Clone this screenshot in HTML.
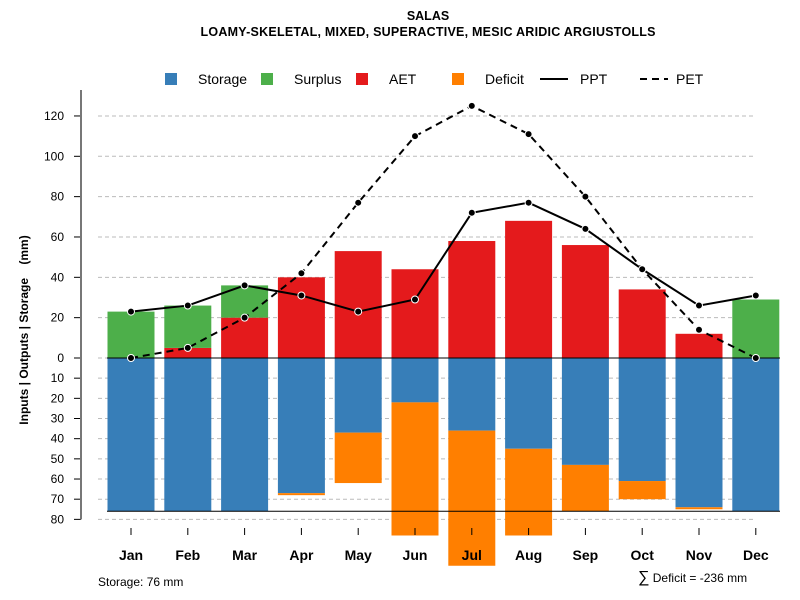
<!DOCTYPE html>
<html><head><meta charset="utf-8"><style>body{margin:0;background:#fff}svg{display:block;font-family:"Liberation Sans",sans-serif}</style></head>
<body>
<svg id="c" width="800" height="600">
<text x="428" y="20" text-anchor="middle" font-size="12.5" font-weight="bold">SALAS</text>
<text x="428" y="36" text-anchor="middle" font-size="12.5" font-weight="bold" textLength="455">LOAMY-SKELETAL, MIXED, SUPERACTIVE, MESIC ARIDIC ARGIUSTOLLS</text>
<g id="grid"></g><g id="bars"></g><g id="lines"></g><g id="axes"></g>
<g font-size="14">
<rect x="165" y="73" width="12" height="12" fill="#377eb8"/><text x="198" y="84">Storage</text>
<rect x="261" y="73" width="12" height="12" fill="#4daf4a"/><text x="294" y="84">Surplus</text>
<rect x="356" y="73" width="12" height="12" fill="#e41a1c"/><text x="389" y="84">AET</text>
<rect x="452" y="73" width="12" height="12" fill="#ff7f00"/><text x="485" y="84">Deficit</text>
<line x1="540" y1="79" x2="568" y2="79" stroke="#000" stroke-width="2"/><text x="580" y="84">PPT</text>
<line x1="640" y1="79" x2="668" y2="79" stroke="#000" stroke-width="2" stroke-dasharray="7,5"/><text x="676" y="84">PET</text>
</g>
<text transform="translate(28,330) rotate(-90)" text-anchor="middle" font-size="12" font-weight="bold" xml:space="preserve">Inputs | Outputs | Storage    (mm)</text>
<text x="98" y="586" font-size="12">Storage: 76 mm</text>
<text x="638" y="582" font-size="12"><tspan font-size="16">∑</tspan> Deficit = -236 mm</text>
</svg>
<script>
const months=["Jan","Feb","Mar","Apr","May","Jun","Jul","Aug","Sep","Oct","Nov","Dec"];
const ppt=[23,26,36,31,23,29,72,77,64,44,26,31];
const pet=[0,5,20,42,77,110,125,111,80,44,14,0];
const aet=[0,5,20,40,53,44,58,68,56,34,12,0];
const surplus=[23,21,16,0,0,0,0,0,0,0,0,29];
const storage=[76,76,76,67,37,22,36,45,53,61,74,76];
const deficit=[0,0,0,1,25,66,67,43,23,9,1,0];
const upTicks=[0,20,40,60,80,100,120];
const downTicks=[10,20,30,40,50,60,70,80];
const awc=76;
const NS="http://www.w3.org/2000/svg";
const X=i=>131+i*56.8;
const Y=v=>358-v*2.017;
function mk(p,t,a){const e=document.createElementNS(NS,t);for(const k in a)e.setAttribute(k,a[k]);document.getElementById(p).appendChild(e);return e;}
upTicks.concat(downTicks.map(v=>-v)).forEach(v=>{
 const l=mk('grid','line',{x1:98,x2:756,y1:Y(v),y2:Y(v),stroke:'#bbb','stroke-dasharray':'4,3'});
 
 
 const t=mk('axes','line',{x1:74,x2:81,y1:Y(v),y2:Y(v),stroke:'#000'});
 
 
 const tx=mk('axes','text',{x:64,y:Y(v)+4,'text-anchor':'end','font-size':12});
 tx.textContent=Math.abs(v);
 
 
});
const ax=mk('axes','line',{x1:81,x2:81,y1:90,y2:Y(-80),stroke:'#777','stroke-width':2});


const bw=47;
function bar(i,v0,v1,c,n){if(v1===v0)return;const r=mk('bars','rect',{x:X(i)-bw/2,y:Math.min(Y(v0),Y(v1)),width:bw,height:Math.abs(Y(v1)-Y(v0)),fill:c});
 
 }
months.forEach((m,i)=>{
 bar(i,0,aet[i],'#e41a1c','aet-bar-'+m.toLowerCase());
 bar(i,aet[i],aet[i]+surplus[i],'#4daf4a','surplus-bar-'+m.toLowerCase());
 bar(i,0,-storage[i],'#377eb8','storage-bar-'+m.toLowerCase());
 bar(i,-storage[i],-storage[i]-deficit[i],'#ff7f00','deficit-bar-'+m.toLowerCase());
 const t=mk('axes','line',{x1:X(i),x2:X(i),y1:528,y2:535,stroke:'#000'});
 
 
 const tx=mk('axes','text',{x:X(i),y:560,'text-anchor':'middle','font-size':14,'font-weight':'bold'});
 tx.textContent=m;
 
 
});
const z=mk('bars','line',{x1:107,x2:780,y1:Y(0),y2:Y(0),stroke:'#000'});


const s=mk('bars','line',{x1:107,x2:780,y1:Y(-awc),y2:Y(-awc),stroke:'#000'});


function series(arr,n,dash){
 const p=mk('lines','polyline',{points:arr.map((v,i)=>X(i)+','+Y(v)).join(' '),fill:'none',stroke:'#000','stroke-width':2,'stroke-dasharray':dash});
 
 
 arr.forEach((v,i)=>{const c=mk('lines','circle',{cx:X(i),cy:Y(v),r:3.5,fill:'#000',stroke:'#fff','stroke-width':1});
 
 });
}
series(pet,'pet','7,5');
series(ppt,'ppt','none');
</script>
</body></html>
